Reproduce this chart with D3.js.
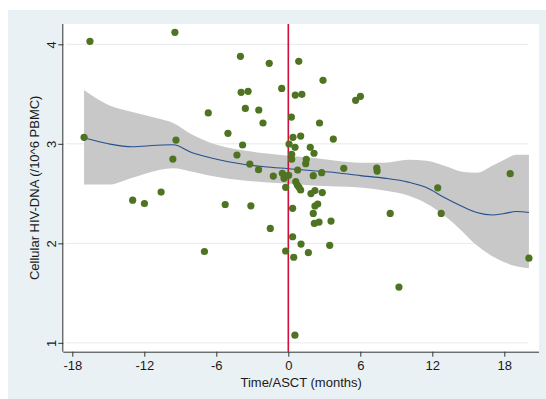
<!DOCTYPE html>
<html>
<head>
<meta charset="utf-8">
<script src="https://cdn.jsdelivr.net/npm/d3@7"></script>
<style>
  html, body { margin: 0; padding: 0; background: #ffffff; }
  svg { display: block; }
  text { font-family: "Liberation Sans", Arial, Helvetica, sans-serif; fill: #1a1a1a; }
</style>
</head>
<body>
<svg id="chart" width="546" height="399"></svg>
<script>
// ---- Data ----
const pointX = [-17.02,-16.53,-9.45,-12.97,-11.99,-10.60,-9.62,-9.36,-6.99,-6.67,-5.26,-5.03,-4.28,-3.99,-3.93,-3.81,-3.58,-3.35,-3.21,-3.12,-2.48,-2.46,-2.11,-1.59,-1.50,-1.25,-0.55,-0.50,-0.22,-0.22,-0.22,0.06,0.03,-0.36,0.26,0.39,0.28,0.28,0.36,0.36,0.45,0.55,0.56,0.58,0.62,0.75,0.78,0.87,0.89,1.03,1.06,1.03,1.13,1.50,1.45,1.67,1.83,1.89,2.22,2.83,2.08,2.17,2.14,2.08,2.22,2.45,2.56,2.60,2.78,2.89,3.45,3.56,3.75,4.62,5.61,6.01,7.37,7.40,8.49,9.22,12.45,12.74,18.49,20.05];
const pointY = [3.065,4.03,4.12,2.434,2.40,2.515,2.847,3.038,1.918,3.31,2.39,3.105,2.887,3.879,3.517,2.988,3.356,3.527,2.796,2.377,2.74,3.34,3.209,3.809,2.15,2.676,3.557,2.703,2.676,2.563,1.923,2.998,2.683,2.653,3.269,3.065,2.895,2.845,2.352,2.066,1.86,1.077,2.965,3.49,2.62,2.586,2.737,3.829,2.563,2.536,1.993,3.078,3.497,2.845,2.80,1.906,2.965,2.50,2.53,2.51,2.30,2.20,2.905,2.68,2.375,2.395,2.214,3.209,2.71,3.638,1.98,2.224,3.048,2.754,3.437,3.477,2.756,2.726,2.30,1.56,2.558,2.30,2.70,1.851];

const fitX     = [-17.02,-15,-13,-11,-9.6,-8,-6.5,-5,-3.5,-2,0,2,4,6,8,10,11.5,13,14.5,15.7,17,18,19,20.05];
const fitY     = [3.06,3.00,2.97,2.985,2.99,2.91,2.86,2.82,2.79,2.77,2.75,2.73,2.71,2.68,2.655,2.615,2.56,2.46,2.37,2.31,2.285,2.30,2.32,2.31];
const fitUpper = [3.54,3.39,3.32,3.26,3.21,3.09,3.01,2.96,2.93,2.905,2.88,2.86,2.83,2.81,2.81,2.84,2.83,2.78,2.72,2.71,2.78,2.84,2.89,2.89];
const fitLower = [2.59,2.59,2.66,2.73,2.755,2.72,2.68,2.65,2.63,2.615,2.60,2.58,2.57,2.56,2.53,2.48,2.40,2.28,2.12,1.98,1.87,1.81,1.77,1.75];

const xTicks = [-18,-12,-6,0,6,12,18];
const yTicks = [1,2,3,4];
const xTitle = "Time/ASCT (months)";
const yTitle = "Cellular HIV-DNA (/10^6 PBMC)";

// ---- Layout ----
const svg = d3.select("#chart");
const plot = {left: 63.3, right: 539, top: 24, bottom: 351.7};

const x = d3.scaleLinear().domain([-18.75, 20.89]).range([plot.left, plot.right]);
const y = d3.scaleLinear().domain([0.911, 4.204]).range([plot.bottom, plot.top]);

// outer graph region
svg.append("rect").attr("x", 8).attr("y", 10).attr("width", 538).attr("height", 389).attr("fill", "#e9f1f4");
// plot region
svg.append("rect").attr("x", plot.left).attr("y", plot.top)
  .attr("width", plot.right - plot.left).attr("height", plot.bottom - plot.top).attr("fill", "#ffffff");

// gridlines
svg.append("g").selectAll("line").data(yTicks).join("line")
  .attr("x1", 66).attr("x2", 528)
  .attr("y1", d => y(d)).attr("y2", d => y(d))
  .attr("stroke", "#e6e9ea").attr("stroke-width", 1);

// CI band
const bandData = fitX.map((v, i) => ({x: v, lo: fitLower[i], hi: fitUpper[i], m: fitY[i]}));
svg.append("path").datum(bandData)
  .attr("d", d3.area().x(d => x(d.x)).y0(d => y(d.lo)).y1(d => y(d.hi)).curve(d3.curveMonotoneX))
  .attr("fill", "#c8c8c8");

// fit line
svg.append("path").datum(bandData)
  .attr("d", d3.line().x(d => x(d.x)).y(d => y(d.m)).curve(d3.curveMonotoneX))
  .attr("fill", "none").attr("stroke", "#24508c").attr("stroke-width", 1.1);

// red vertical line at 0
svg.append("line").attr("x1", x(0)).attr("x2", x(0)).attr("y1", plot.top).attr("y2", plot.bottom)
  .attr("stroke", "#d0103a").attr("stroke-width", 1.6);

// points
svg.append("g").selectAll("circle").data(pointX.map((v, i) => [v, pointY[i]])).join("circle")
  .attr("cx", d => x(d[0])).attr("cy", d => y(d[1])).attr("r", 3.6)
  .attr("fill", "#4f7421");

// axes
const xAxis = d3.axisBottom(x).tickValues(xTicks).tickSize(5).tickSizeOuter(0).tickFormat(d3.format("d"));
const gx = svg.append("g").attr("transform", `translate(0,${plot.bottom})`).call(xAxis);
gx.select(".domain").attr("stroke", "#333").attr("d", `M${plot.left},0.5H${plot.right}`);
gx.selectAll(".tick line").attr("stroke", "#333");
gx.selectAll(".tick text").attr("font-size", 13).attr("fill", "#1a1a1a").attr("y", 9).attr("dy", "0.71em")
  .text(d => (d < 0 ? "-" + Math.abs(d) : d));

const yAxis = d3.axisLeft(y).tickValues(yTicks).tickSize(5).tickSizeOuter(0).tickFormat(d3.format("d"));
const gy = svg.append("g").attr("transform", `translate(${plot.left},0)`).call(yAxis);
gy.select(".domain").attr("stroke", "#333").attr("d", `M-0.5,${plot.top}V${plot.bottom}`);
gy.selectAll(".tick line").attr("stroke", "#333");
gy.selectAll(".tick text").attr("font-size", 13).attr("fill", "#1a1a1a")
  .attr("x", 0).attr("dy", 0).attr("text-anchor", "middle")
  .attr("transform", "translate(-12,0) rotate(-90)").attr("dominant-baseline", "central");

// titles
svg.append("text").attr("x", (plot.left + plot.right) / 2).attr("y", 387)
  .attr("text-anchor", "middle").attr("font-size", 13).text(xTitle);
svg.append("text").attr("transform", `translate(34,${(plot.top + plot.bottom) / 2}) rotate(-90)`)
  .attr("text-anchor", "middle").attr("dominant-baseline", "central").attr("font-size", 13).text(yTitle);
</script>
</body>
</html>
